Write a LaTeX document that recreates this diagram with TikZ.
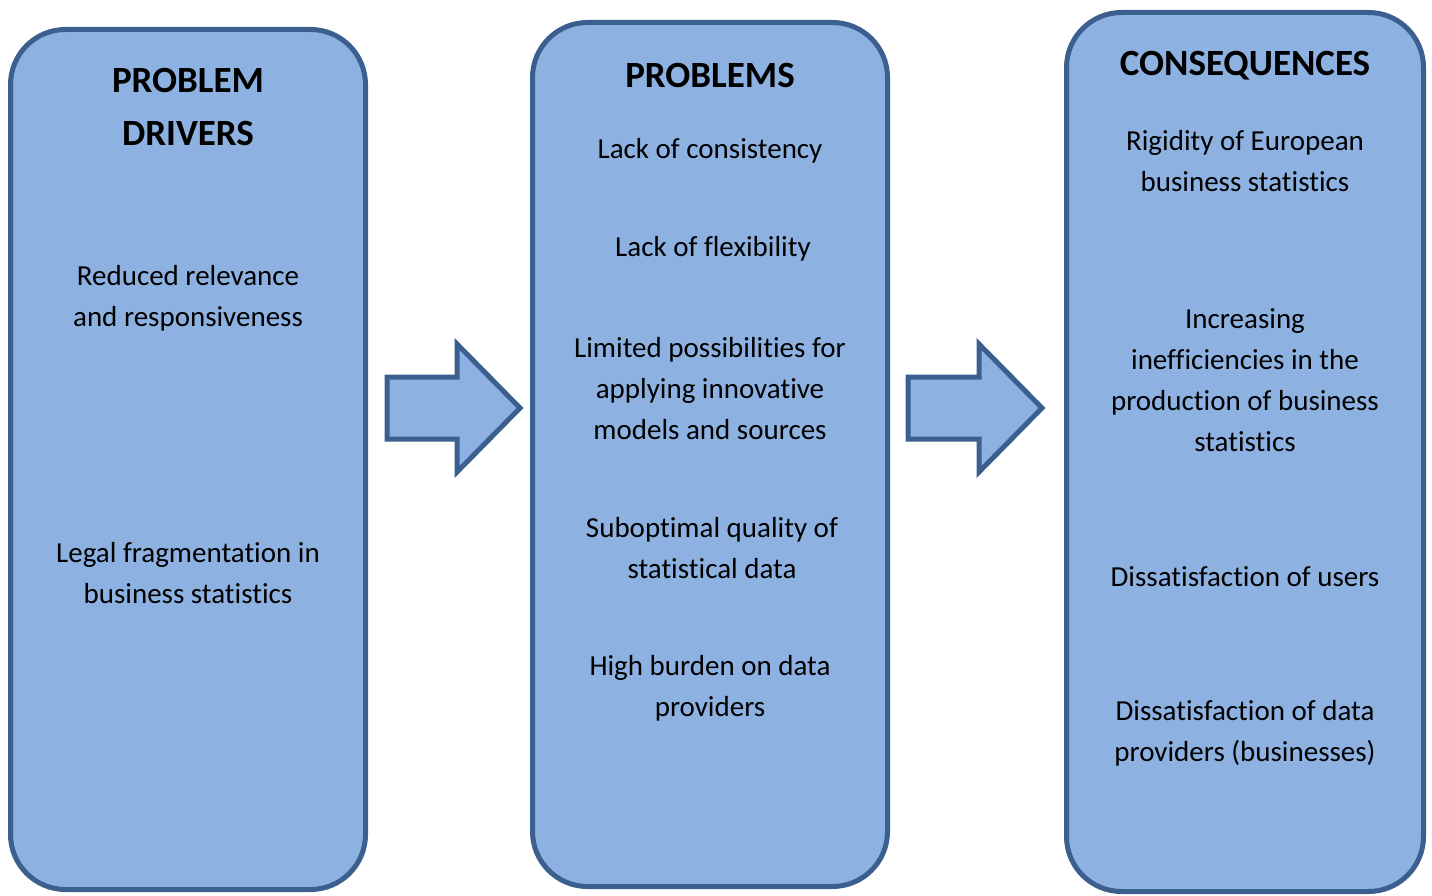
\documentclass[tikz,border=0pt]{standalone}
\usepackage{fontspec}
\setmainfont[Ligatures=NoCommon]{Carlito}
\usetikzlibrary{positioning}
\definecolor{boxfill}{HTML}{8DB2E2}
\definecolor{boxline}{HTML}{3B5F8E}
\tikzset{x=1pt,y=-1pt,
  column/.style={draw=boxline,fill=boxfill,line width=5pt,rounded corners=55pt},
  bigarrow/.style={draw=boxline,fill=boxfill,line width=5pt,line join=miter},
  title/.style={align=center,font=\fontsize{37}{53}\selectfont\bfseries},
  item/.style={align=center,font=\fontsize{29}{41}\selectfont}}
\begin{document}
\begin{tikzpicture}
  \useasboundingbox (0,0) rectangle (1432,896);
  % the three columns
  \draw[column] (10.5,29.5) rectangle (365.5,889.5);
  \draw[column] (532.5,22.5) rectangle (887.5,886.5);
  \draw[column] (1066.5,12.5) rectangle (1423.5,891.5);
  % arrows between them
  \draw[bigarrow] (387,377) -- (457,377) -- (457,344) -- (520,408)
    -- (457,472) -- (457,439) -- (387,439) -- cycle;
  \draw[bigarrow] (908,377) -- (979,377) -- (979,344) -- (1042,408)
    -- (979,472) -- (979,439) -- (908,439) -- cycle;
  % problem drivers
  \node[title] (drivers) at (188,107) {PROBLEM\\DRIVERS};
  \node[item] (relevance) at (188,298) {Reduced relevance\\and responsiveness};
  \node[item] (legal) at (188,573) {Legal fragmentation in\\business statistics};
  % problems
  \node[title] (problems) at (710,75) {PROBLEMS};
  \node[item] (consistency) at (710,151) {Lack of consistency};
  \node[item] (flexibility) at (713,249) {Lack of flexibility};
  \node[item] (innovative) at (710,389) {Limited possibilities for\\applying innovative\\models and sources};
  \node[item] (quality) at (712,548) {Suboptimal quality of\\statistical data};
  \node[item] (burden) at (710,688) {High burden on data\\providers};
  % consequences
  \node[title] (consequences) at (1245,66) {CONSEQUENCES};
  \node[item] (rigidity) at (1245,161) {Rigidity of European\\business statistics};
  \node[item] (inefficiencies) at (1245,380) {Increasing\\inefficiencies in the\\production of business\\statistics};
  \node[item] (users) at (1245,577) {Dissatisfaction of users};
  \node[item] (providers) at (1245,733) {Dissatisfaction of data\\providers (businesses)};
\end{tikzpicture}
\end{document}
